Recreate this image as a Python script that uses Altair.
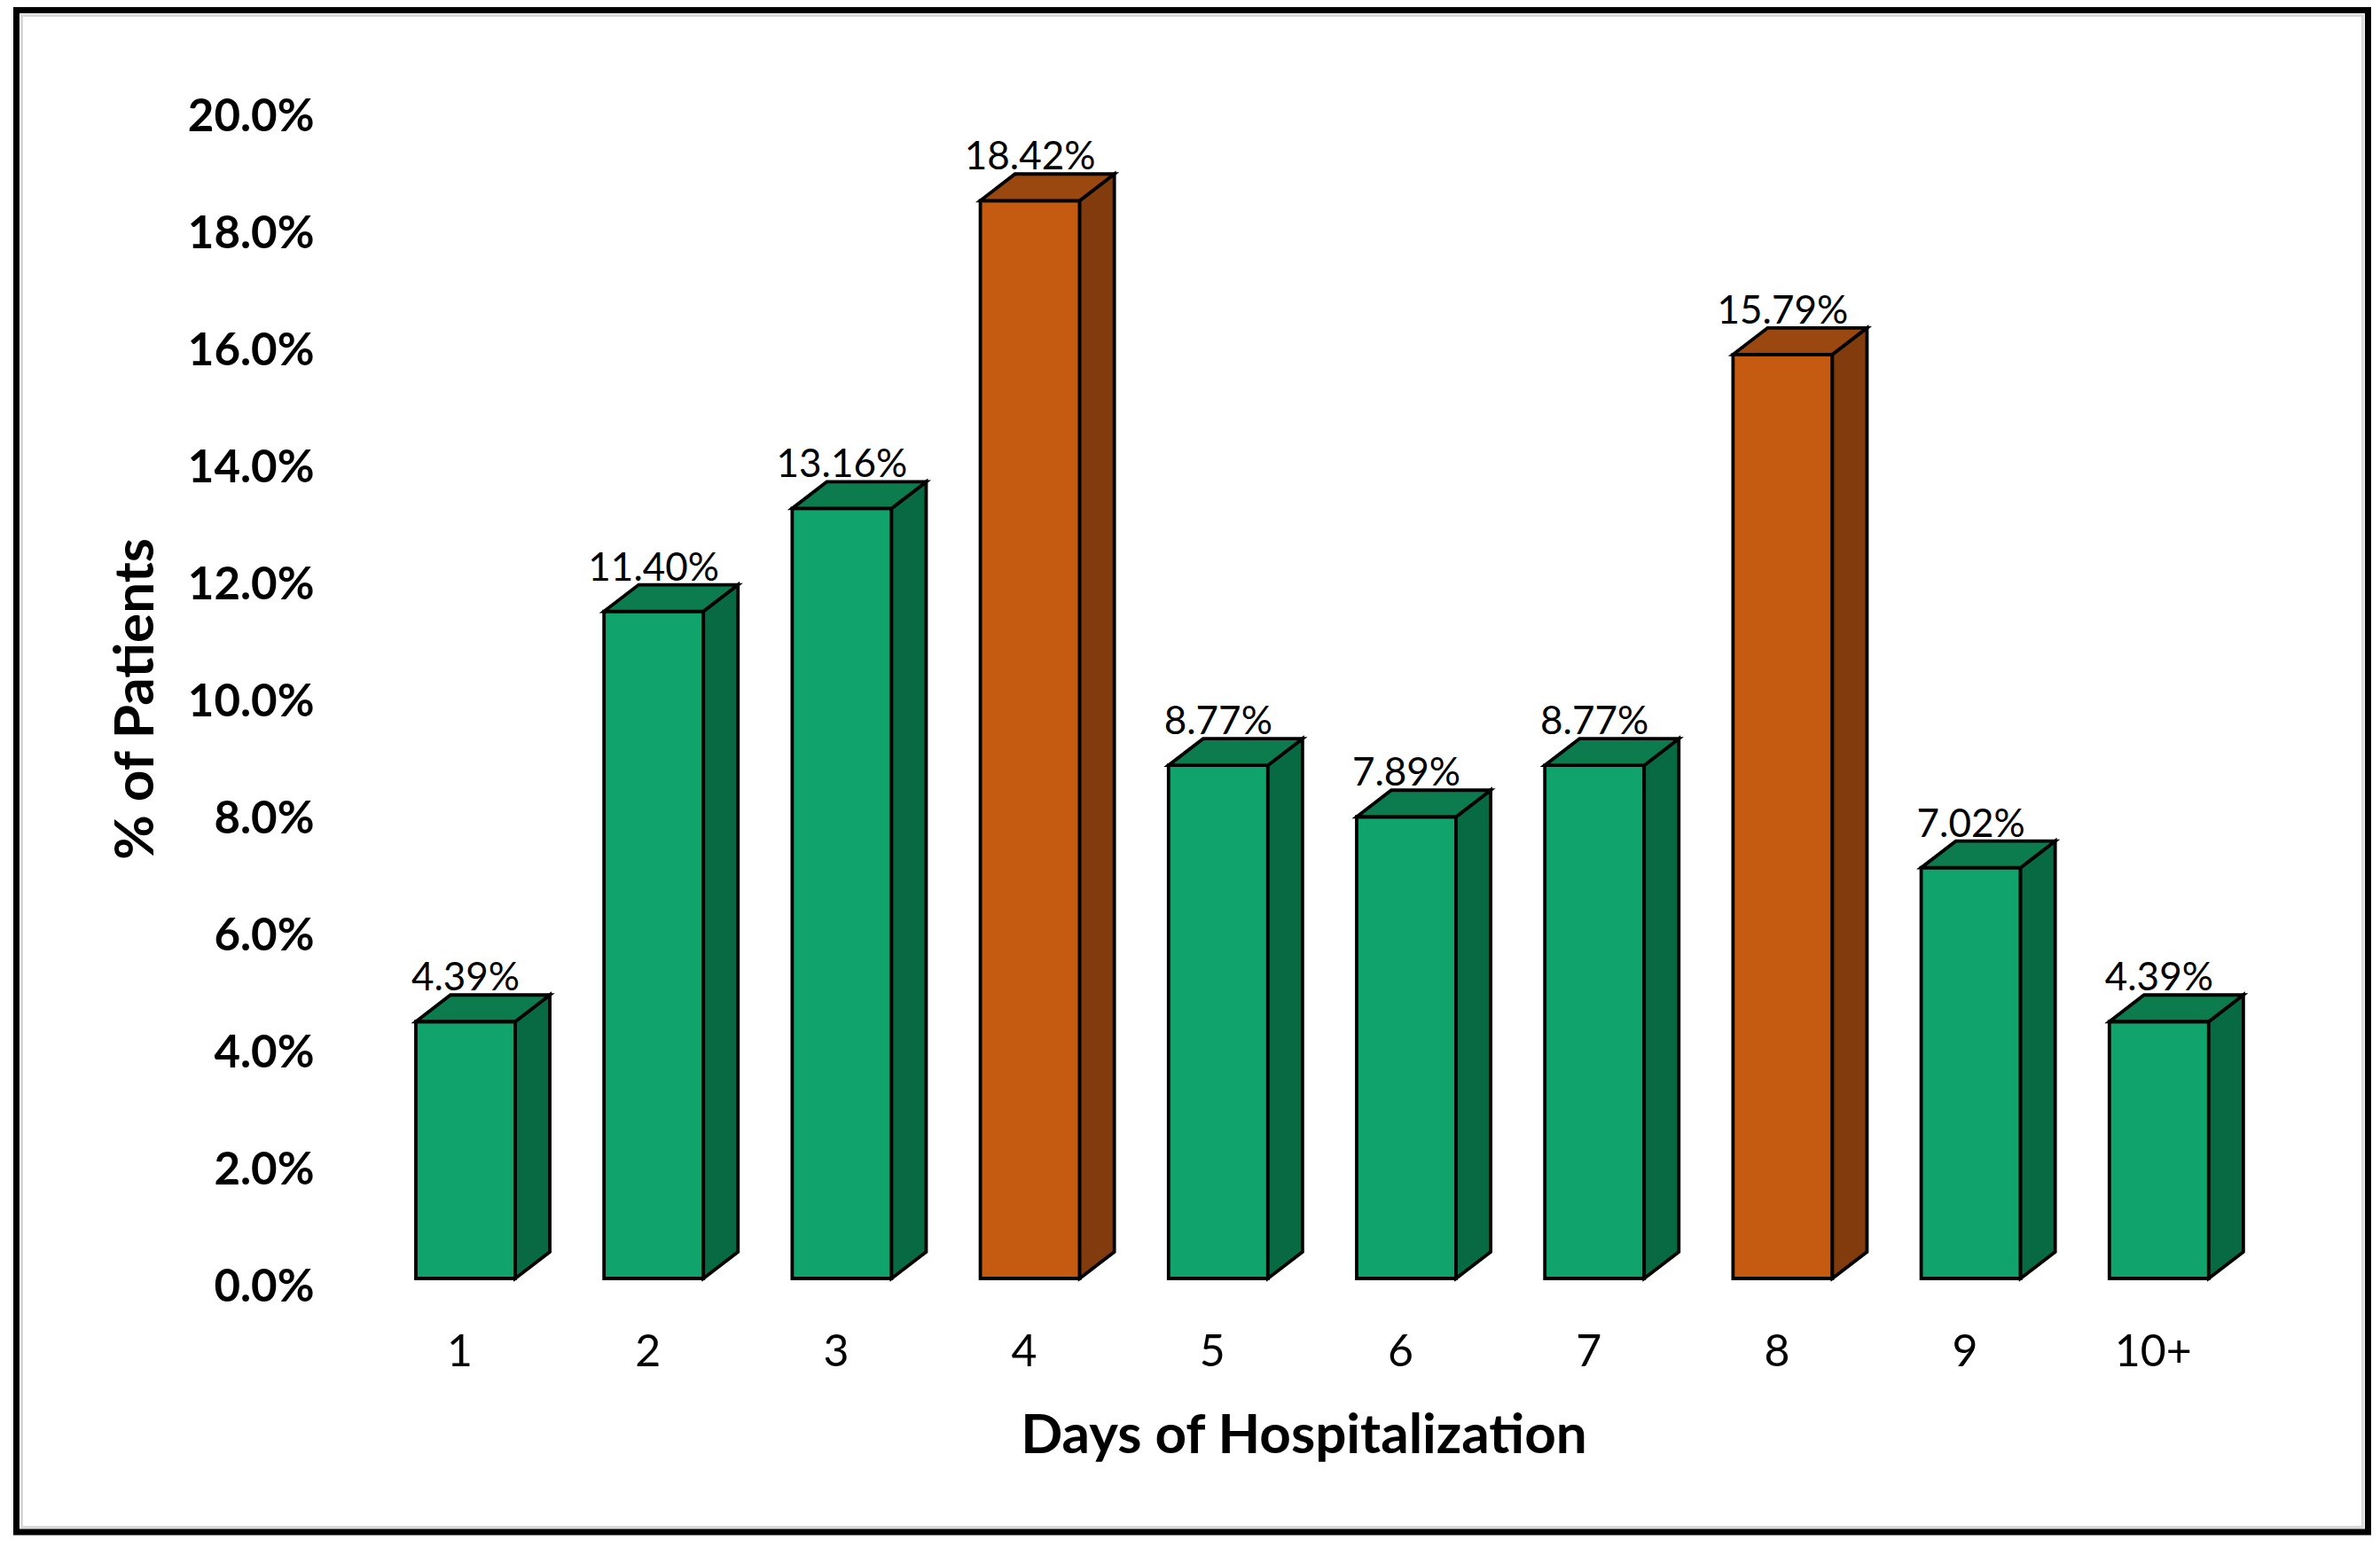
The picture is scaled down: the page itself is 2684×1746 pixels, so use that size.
import json
import altair as alt
import pandas as pd

# ---- data ----
categories = ["1", "2", "3", "4", "5", "6", "7", "8", "9", "10+"]
values = [4.39, 11.40, 13.16, 18.42, 8.77, 7.89, 8.77, 15.79, 7.02, 4.39]
highlight = [False, False, False, True, False, False, False, True, False, False]
y_ticks = [0, 2, 4, 6, 8, 10, 12, 14, 16, 18, 20]

# ---- styling ----
GREEN = {"front": "#10A36C", "top": "#0C7C4F", "side": "#086A43"}
ORANGE = {"front": "#C55A11", "top": "#9A4710", "side": "#813B0C"}
HALF = 0.264   # half of front face width (x units)
DX = 0.184     # 3D depth in x units
DY = 0.455     # 3D depth in y units
W, H = 2225, 1320
FONT = "Lato"

front_rows, side_rows, top_rows = [], [], []
for i, (cat, v, hl) in enumerate(zip(categories, values, highlight)):
    pos = i + 1
    pal = ORANGE if hl else GREEN
    x0, x1 = pos - HALF, pos + HALF
    front_rows.append(dict(bar=cat, pos=pos, x0=x0, x1=x1, y0=0.0, v=v,
                           fill=pal["front"], label=f"{v:.2f}%"))
    side_rows += [
        dict(bar=cat, x=x1, ylo=0.0, yhi=v, fill=pal["side"]),
        dict(bar=cat, x=x1 + DX, ylo=DY, yhi=v + DY, fill=pal["side"]),
    ]
    top_rows += [
        dict(bar=cat, x=x0, ylo=v, yhi=v, fill=pal["top"]),
        dict(bar=cat, x=x0 + DX, ylo=v, yhi=v + DY, fill=pal["top"]),
        dict(bar=cat, x=x1, ylo=v, yhi=v + DY, fill=pal["top"]),
        dict(bar=cat, x=x1 + DX, ylo=v + DY, yhi=v + DY, fill=pal["top"]),
    ]

front_df = pd.DataFrame(front_rows)
side_df = pd.DataFrame(side_rows)
top_df = pd.DataFrame(top_rows)

xscale = alt.Scale(domain=[0.3167, 10.802], nice=False, zero=False)
yscale = alt.Scale(domain=[0, 20], nice=False, zero=False)

label_expr = json.dumps(categories) + "[datum.value - 1]"

xaxis = alt.Axis(
    values=list(range(1, len(categories) + 1)), labelExpr=label_expr,
    title="Days of Hospitalization", grid=False, domain=False, ticks=False, tickSize=0,
    labelFont=FONT, labelFontSize=50, labelColor="black", labelBaseline="alphabetic",
    labelPadding=98, labelOffset=-7, labelOverlap=False, labelFlush=False,
    titleFont=FONT, titleFontSize=62, titleFontWeight="bold", titleColor="black",
    titleX=1090, titleY=196, titleBaseline="alphabetic", titleAlign="center",
)
yaxis = alt.Axis(
    values=y_ticks, labelExpr="format(datum.value, '.1f') + '%'",
    title="% of Patients", grid=False, domain=False, ticks=False, tickSize=0,
    labelFont=FONT, labelFontSize=51, labelFontWeight="bold", labelColor="black",
    labelBaseline="middle", labelPadding=26, labelOffset=10, labelOverlap=False,
    labelFlush=False,
    titleFont=FONT, titleFontSize=62, titleFontWeight="bold", titleColor="black",
    titleAngle=270, titleX=-208, titleY=666, titleAlign="center",
    titleBaseline="alphabetic",
)

frame_src = pd.DataFrame({"k": [0]})
frame = alt.Chart(frame_src).mark_rect(
    fillOpacity=0, stroke="black", strokeWidth=7
).encode(x=alt.value(-361.5), x2=alt.value(2290.5), y=alt.value(-110.5), y2=alt.value(1606))
inner = alt.Chart(frame_src).mark_rect(
    fillOpacity=0, stroke="#d9d9d9", strokeWidth=3
).encode(x=alt.value(-355.5), x2=alt.value(2284.5), y=alt.value(-104.5), y2=alt.value(1600.5))

front = alt.Chart(front_df).mark_rect(stroke="black", strokeWidth=3.8).encode(
    x=alt.X("x0:Q", scale=xscale, axis=xaxis),
    x2="x1:Q",
    y=alt.Y("y0:Q", scale=yscale, axis=yaxis),
    y2="v:Q",
    fill=alt.Fill("fill:N", scale=None),
)


def face(df):
    return alt.Chart(df).mark_area(
        stroke="black", strokeWidth=3.8, strokeJoin="miter", interpolate="linear",
        orient="vertical",
    ).encode(
        x=alt.X("x:Q", scale=xscale, axis=xaxis),
        y=alt.Y("ylo:Q", scale=yscale, axis=yaxis, stack=False),
        y2="yhi:Q",
        fill=alt.Fill("fill:N", scale=None),
        detail="bar:N",
    )


side = face(side_df)
top = face(top_df)

text = alt.Chart(front_df).mark_text(
    dy=-35, baseline="alphabetic", align="center", font=FONT, fontSize=44, color="black"
).encode(
    x=alt.X("pos:Q", scale=xscale, axis=xaxis),
    y=alt.Y("v:Q", scale=yscale, axis=yaxis),
    text="label:N",
)

chart = alt.layer(frame, inner, front, side, top, text).properties(
    width=W, height=H,
    padding={"left": 372, "top": 114, "right": 71, "bottom": 290},
    autosize=alt.AutoSizeParams(type="none"),
    background="white",
).configure_view(strokeWidth=0)

chart.save("out.html", embed_options={"renderer": "svg", "actions": False})
